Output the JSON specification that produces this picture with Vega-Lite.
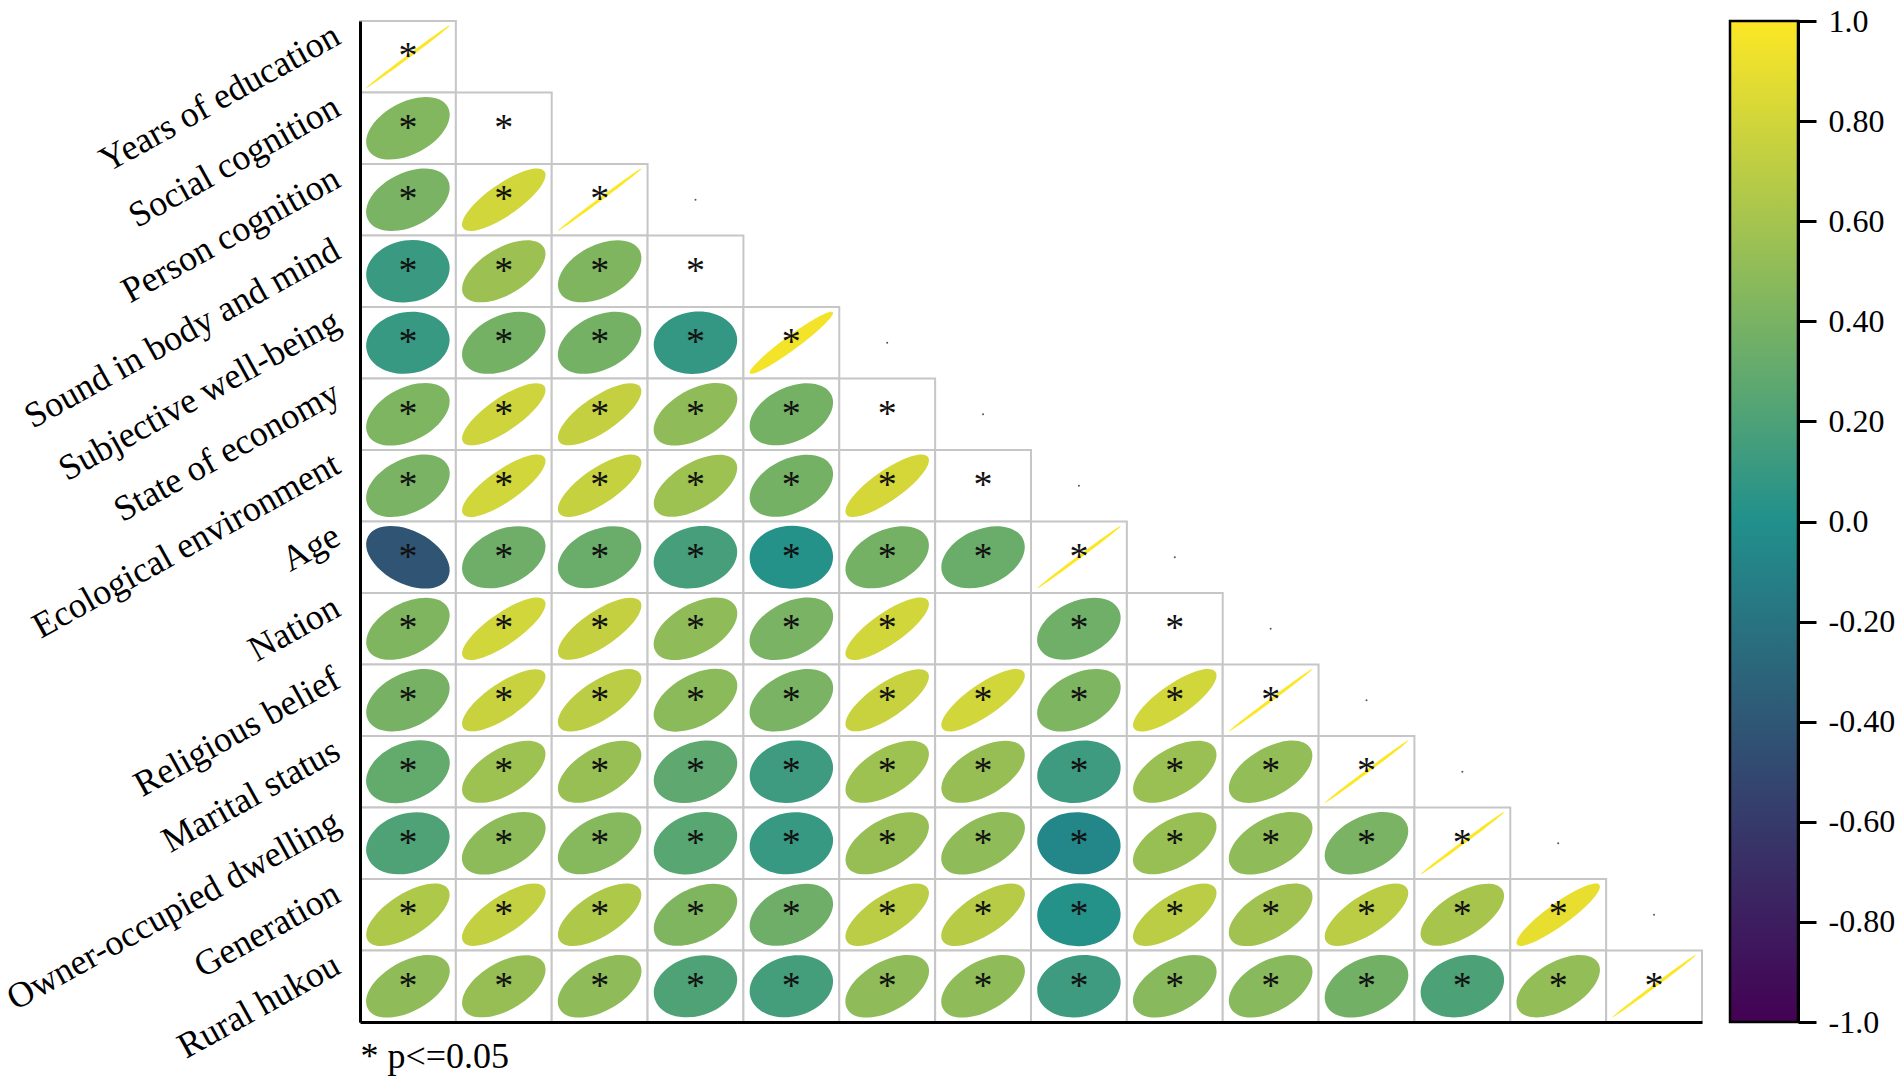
{
  "$schema": "https://vega.github.io/schema/vega-lite/v6.json",
  "padding": {"left": 0, "top": 5, "right": 10, "bottom": 5},
  "background": "white",
  "config": {"view": {"stroke": null}, "font": "Liberation Serif"},
  "datasets": {
    "cells": [
      {"row": "Years of education", "col": 1, "r": 1, "sig": "*"},
      {"row": "Social cognition", "col": 1, "r": 0.44, "sig": "*"},
      {"row": "Social cognition", "col": 2, "r": null, "sig": "*"},
      {"row": "Person cognition", "col": 1, "r": 0.40, "sig": "*"},
      {"row": "Person cognition", "col": 2, "r": 0.80, "sig": "*"},
      {"row": "Person cognition", "col": 3, "r": 1, "sig": "*"},
      {"row": "Sound in body and mind", "col": 1, "r": 0.11, "sig": "*"},
      {"row": "Sound in body and mind", "col": 2, "r": 0.56, "sig": "*"},
      {"row": "Sound in body and mind", "col": 3, "r": 0.43, "sig": "*"},
      {"row": "Sound in body and mind", "col": 4, "r": null, "sig": "*"},
      {"row": "Subjective well-being", "col": 1, "r": 0.10, "sig": "*"},
      {"row": "Subjective well-being", "col": 2, "r": 0.38, "sig": "*"},
      {"row": "Subjective well-being", "col": 3, "r": 0.38, "sig": "*"},
      {"row": "Subjective well-being", "col": 4, "r": 0.08, "sig": "*"},
      {"row": "Subjective well-being", "col": 5, "r": 0.96, "sig": "*"},
      {"row": "State of economy", "col": 1, "r": 0.42, "sig": "*"},
      {"row": "State of economy", "col": 2, "r": 0.78, "sig": "*"},
      {"row": "State of economy", "col": 3, "r": 0.74, "sig": "*"},
      {"row": "State of economy", "col": 4, "r": 0.50, "sig": "*"},
      {"row": "State of economy", "col": 5, "r": 0.38, "sig": "*"},
      {"row": "State of economy", "col": 6, "r": null, "sig": "*"},
      {"row": "Ecological environment", "col": 1, "r": 0.40, "sig": "*"},
      {"row": "Ecological environment", "col": 2, "r": 0.80, "sig": "*"},
      {"row": "Ecological environment", "col": 3, "r": 0.75, "sig": "*"},
      {"row": "Ecological environment", "col": 4, "r": 0.57, "sig": "*"},
      {"row": "Ecological environment", "col": 5, "r": 0.38, "sig": "*"},
      {"row": "Ecological environment", "col": 6, "r": 0.82, "sig": "*"},
      {"row": "Ecological environment", "col": 7, "r": null, "sig": "*"},
      {"row": "Age", "col": 1, "r": -0.42, "sig": "*"},
      {"row": "Age", "col": 2, "r": 0.35, "sig": "*"},
      {"row": "Age", "col": 3, "r": 0.33, "sig": "*"},
      {"row": "Age", "col": 4, "r": 0.17, "sig": "*"},
      {"row": "Age", "col": 5, "r": 0.02, "sig": "*"},
      {"row": "Age", "col": 6, "r": 0.38, "sig": "*"},
      {"row": "Age", "col": 7, "r": 0.33, "sig": "*"},
      {"row": "Age", "col": 8, "r": 1, "sig": "*"},
      {"row": "Nation", "col": 1, "r": 0.43, "sig": "*"},
      {"row": "Nation", "col": 2, "r": 0.80, "sig": "*"},
      {"row": "Nation", "col": 3, "r": 0.74, "sig": "*"},
      {"row": "Nation", "col": 4, "r": 0.50, "sig": "*"},
      {"row": "Nation", "col": 5, "r": 0.40, "sig": "*"},
      {"row": "Nation", "col": 6, "r": 0.80, "sig": "*"},
      {"row": "Nation", "col": 7, "r": null, "sig": ""},
      {"row": "Nation", "col": 8, "r": 0.36, "sig": "*"},
      {"row": "Nation", "col": 9, "r": null, "sig": "*"},
      {"row": "Religious belief", "col": 1, "r": 0.39, "sig": "*"},
      {"row": "Religious belief", "col": 2, "r": 0.76, "sig": "*"},
      {"row": "Religious belief", "col": 3, "r": 0.70, "sig": "*"},
      {"row": "Religious belief", "col": 4, "r": 0.48, "sig": "*"},
      {"row": "Religious belief", "col": 5, "r": 0.40, "sig": "*"},
      {"row": "Religious belief", "col": 6, "r": 0.76, "sig": "*"},
      {"row": "Religious belief", "col": 7, "r": 0.80, "sig": "*"},
      {"row": "Religious belief", "col": 8, "r": 0.42, "sig": "*"},
      {"row": "Religious belief", "col": 9, "r": 0.80, "sig": "*"},
      {"row": "Religious belief", "col": 10, "r": 1, "sig": "*"},
      {"row": "Marital status", "col": 1, "r": 0.30, "sig": "*"},
      {"row": "Marital status", "col": 2, "r": 0.57, "sig": "*"},
      {"row": "Marital status", "col": 3, "r": 0.54, "sig": "*"},
      {"row": "Marital status", "col": 4, "r": 0.28, "sig": "*"},
      {"row": "Marital status", "col": 5, "r": 0.13, "sig": "*"},
      {"row": "Marital status", "col": 6, "r": 0.57, "sig": "*"},
      {"row": "Marital status", "col": 7, "r": 0.53, "sig": "*"},
      {"row": "Marital status", "col": 8, "r": 0.13, "sig": "*"},
      {"row": "Marital status", "col": 9, "r": 0.55, "sig": "*"},
      {"row": "Marital status", "col": 10, "r": 0.52, "sig": "*"},
      {"row": "Marital status", "col": 11, "r": 1, "sig": "*"},
      {"row": "Owner-occupied dwelling", "col": 1, "r": 0.21, "sig": "*"},
      {"row": "Owner-occupied dwelling", "col": 2, "r": 0.49, "sig": "*"},
      {"row": "Owner-occupied dwelling", "col": 3, "r": 0.46, "sig": "*"},
      {"row": "Owner-occupied dwelling", "col": 4, "r": 0.25, "sig": "*"},
      {"row": "Owner-occupied dwelling", "col": 5, "r": 0.10, "sig": "*"},
      {"row": "Owner-occupied dwelling", "col": 6, "r": 0.53, "sig": "*"},
      {"row": "Owner-occupied dwelling", "col": 7, "r": 0.50, "sig": "*"},
      {"row": "Owner-occupied dwelling", "col": 8, "r": -0.06, "sig": "*"},
      {"row": "Owner-occupied dwelling", "col": 9, "r": 0.54, "sig": "*"},
      {"row": "Owner-occupied dwelling", "col": 10, "r": 0.50, "sig": "*"},
      {"row": "Owner-occupied dwelling", "col": 11, "r": 0.40, "sig": "*"},
      {"row": "Owner-occupied dwelling", "col": 12, "r": 1, "sig": "*"},
      {"row": "Generation", "col": 1, "r": 0.64, "sig": "*"},
      {"row": "Generation", "col": 2, "r": 0.73, "sig": "*"},
      {"row": "Generation", "col": 3, "r": 0.64, "sig": "*"},
      {"row": "Generation", "col": 4, "r": 0.43, "sig": "*"},
      {"row": "Generation", "col": 5, "r": 0.35, "sig": "*"},
      {"row": "Generation", "col": 6, "r": 0.70, "sig": "*"},
      {"row": "Generation", "col": 7, "r": 0.68, "sig": "*"},
      {"row": "Generation", "col": 8, "r": 0.02, "sig": "*"},
      {"row": "Generation", "col": 9, "r": 0.70, "sig": "*"},
      {"row": "Generation", "col": 10, "r": 0.58, "sig": "*"},
      {"row": "Generation", "col": 11, "r": 0.70, "sig": "*"},
      {"row": "Generation", "col": 12, "r": 0.61, "sig": "*"},
      {"row": "Generation", "col": 13, "r": 0.90, "sig": "*"},
      {"row": "Rural hukou", "col": 1, "r": 0.50, "sig": "*"},
      {"row": "Rural hukou", "col": 2, "r": 0.53, "sig": "*"},
      {"row": "Rural hukou", "col": 3, "r": 0.50, "sig": "*"},
      {"row": "Rural hukou", "col": 4, "r": 0.21, "sig": "*"},
      {"row": "Rural hukou", "col": 5, "r": 0.16, "sig": "*"},
      {"row": "Rural hukou", "col": 6, "r": 0.50, "sig": "*"},
      {"row": "Rural hukou", "col": 7, "r": 0.50, "sig": "*"},
      {"row": "Rural hukou", "col": 8, "r": 0.13, "sig": "*"},
      {"row": "Rural hukou", "col": 9, "r": 0.47, "sig": "*"},
      {"row": "Rural hukou", "col": 10, "r": 0.47, "sig": "*"},
      {"row": "Rural hukou", "col": 11, "r": 0.37, "sig": "*"},
      {"row": "Rural hukou", "col": 12, "r": 0.20, "sig": "*"},
      {"row": "Rural hukou", "col": 13, "r": 0.52, "sig": "*"},
      {"row": "Rural hukou", "col": 14, "r": 1, "sig": "*"}
    ],
    "dots": [
      {"row": "Person cognition", "col": 4},
      {"row": "Subjective well-being", "col": 6},
      {"row": "State of economy", "col": 7},
      {"row": "Ecological environment", "col": 8},
      {"row": "Age", "col": 9},
      {"row": "Nation", "col": 10},
      {"row": "Religious belief", "col": 11},
      {"row": "Marital status", "col": 12},
      {"row": "Owner-occupied dwelling", "col": 13},
      {"row": "Generation", "col": 14}
    ],
    "bar": [{"lo": -1, "hi": 1}]
  },
  "spacing": 28,
  "bounds": "flush",
  "hconcat": [
    {
      "width": 1342,
      "height": 1001,
      "encoding": {
        "x": {
          "field": "col",
          "type": "ordinal",
          "scale": {"domain": [1, 2, 3, 4, 5, 6, 7, 8, 9, 10, 11, 12, 13, 14], "paddingInner": 0, "paddingOuter": 0},
          "axis": {
            "orient": "bottom",
            "labels": false,
            "ticks": false,
            "domain": true,
            "domainColor": "#000",
            "domainWidth": 3,
            "title": "* p<=0.05",
            "titleFont": "Liberation Serif",
            "titleFontSize": 36,
            "titleFontWeight": "normal",
            "titleColor": "#000",
            "titleAnchor": "start",
            "titleAlign": "left",
            "titleBaseline": "top",
            "titlePadding": 17,
            "zindex": 2
          }
        },
        "y": {
          "field": "row",
          "type": "ordinal",
          "scale": {
            "domain": ["Years of education", "Social cognition", "Person cognition", "Sound in body and mind", "Subjective well-being", "State of economy", "Ecological environment", "Age", "Nation", "Religious belief", "Marital status", "Owner-occupied dwelling", "Generation", "Rural hukou"],
            "paddingInner": 0,
            "paddingOuter": 0
          },
          "axis": {
            "orient": "left",
            "title": null,
            "ticks": false,
            "domain": true,
            "domainColor": "#000",
            "domainWidth": 3,
            "labelFont": "Liberation Serif",
            "labelFontSize": 36,
            "labelColor": "#000",
            "labelAngle": -29,
            "labelAlign": "right",
            "labelBaseline": "alphabetic",
            "labelPadding": 18,
            "labelOffset": -14,
            "labelLimit": 1000,
            "labelOverlap": false,
            "labelBound": false,
            "zindex": 2
          }
        }
      },
      "layer": [
        {
          "data": {"name": "cells"},
          "mark": {"type": "rect", "fill": "white", "stroke": "#c6c6c6", "strokeWidth": 2}
        },
        {
          "data": {"name": "cells"},
          "transform": [{"filter": "isValid(datum.r)"}],
          "mark": {
            "type": "point",
            "filled": true,
            "opacity": 1,
            "size": 6956,
            "strokeWidth": 0,
            "shape": {"expr": "'M'+round(sqrt(0.7784+sqrt(0.04911+0.5568*datum.r*datum.r))*cos(0.5*atan2(-1.4924*datum.r,0.4432))*10000)/10000+','+round(sqrt(0.7784+sqrt(0.04911+0.5568*datum.r*datum.r))*sin(0.5*atan2(-1.4924*datum.r,0.4432))*10000)/10000+'A'+round(sqrt(0.7784+sqrt(0.04911+0.5568*datum.r*datum.r))*10000)/10000+','+round(sqrt(max(0.7784-sqrt(0.04911+0.5568*datum.r*datum.r),0.0014))*10000)/10000+','+round(90*atan2(-1.4924*datum.r,0.4432)/PI*1000)/1000+',1,1,'+round(-sqrt(0.7784+sqrt(0.04911+0.5568*datum.r*datum.r))*cos(0.5*atan2(-1.4924*datum.r,0.4432))*10000)/10000+','+round(-sqrt(0.7784+sqrt(0.04911+0.5568*datum.r*datum.r))*sin(0.5*atan2(-1.4924*datum.r,0.4432))*10000)/10000+'A'+round(sqrt(0.7784+sqrt(0.04911+0.5568*datum.r*datum.r))*10000)/10000+','+round(sqrt(max(0.7784-sqrt(0.04911+0.5568*datum.r*datum.r),0.0014))*10000)/10000+','+round(90*atan2(-1.4924*datum.r,0.4432)/PI*1000)/1000+',1,1,'+round(sqrt(0.7784+sqrt(0.04911+0.5568*datum.r*datum.r))*cos(0.5*atan2(-1.4924*datum.r,0.4432))*10000)/10000+','+round(sqrt(0.7784+sqrt(0.04911+0.5568*datum.r*datum.r))*sin(0.5*atan2(-1.4924*datum.r,0.4432))*10000)/10000+'Z'"}
          },
          "encoding": {
            "color": {
              "field": "r",
              "type": "quantitative",
              "scale": {"domain": [-1, 0, 1], "range": ["#440154", "#21908C", "#FDE725"], "interpolate": "rgb"},
              "legend": null
            }
          }
        },
        {
          "data": {"name": "cells"},
          "mark": {"type": "text", "font": "Liberation Serif", "fontSize": 38, "baseline": "alphabetic", "align": "center", "dy": 11.5, "color": "#111"},
          "encoding": {"text": {"field": "sig", "type": "nominal"}}
        },
        {
          "data": {"name": "dots"},
          "mark": {"type": "point", "filled": true, "size": 4, "color": "#555", "opacity": 1}
        }
      ]
    },
    {
      "width": 68,
      "height": 1001,
      "data": {"name": "bar"},
      "mark": {
        "type": "rect",
        "fill": {
          "gradient": "linear",
          "x1": 0, "y1": 1, "x2": 0, "y2": 0,
          "stops": [
            {"offset": 0, "color": "#440154"},
            {"offset": 0.5, "color": "#21908C"},
            {"offset": 1, "color": "#FDE725"}
          ]
        },
        "stroke": "#000",
        "strokeWidth": 2.5
      },
      "encoding": {
        "x": {"datum": 0, "type": "quantitative", "scale": {"domain": [0, 1]}, "axis": null},
        "x2": {"datum": 1},
        "y": {
          "field": "lo",
          "type": "quantitative",
          "scale": {"domain": [-1, 1], "nice": false, "zero": false},
          "axis": {
            "orient": "right",
            "values": [-1, -0.8, -0.6, -0.4, -0.2, 0, 0.2, 0.4, 0.6, 0.8, 1],
            "title": null,
            "grid": false,
            "ticks": true,
            "tickSize": 18,
            "tickWidth": 3,
            "tickColor": "#000",
            "domain": true,
            "domainColor": "#000",
            "domainWidth": 3,
            "labelFont": "Liberation Serif",
            "labelFontSize": 32,
            "labelColor": "#000",
            "labelPadding": 12,
            "labelFlush": false,
            "labelOverlap": false,
            "labelExpr": "datum.value == 1 ? '1.0' : datum.value == 0 ? '0.0' : datum.value == -1 ? '-1.0' : (datum.value < 0 ? '-' : '') + format(abs(datum.value), '.2f')",
            "zindex": 2
          }
        },
        "y2": {"field": "hi"}
      }
    }
  ]
}
